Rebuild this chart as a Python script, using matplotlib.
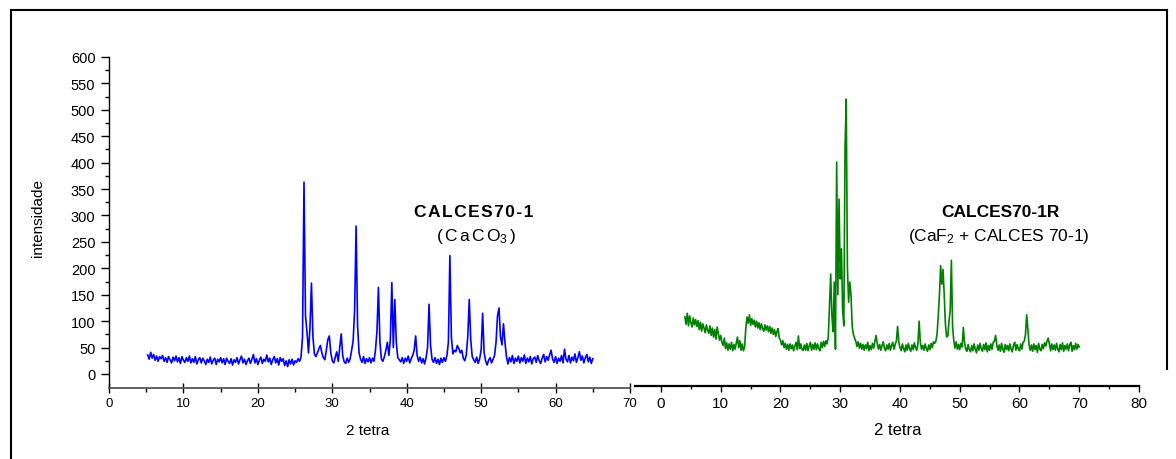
"""XRD patterns of CALCES70-1 and CALCES70-1R, side by side."""

import matplotlib.pyplot as plt
import numpy as np
from matplotlib.lines import Line2D
from matplotlib.ticker import MultipleLocator, FixedLocator

plt.rcParams["font.family"] = ["Liberation Sans", "DejaVu Sans"]
plt.rcParams["mathtext.fontset"] = "custom"
plt.rcParams["mathtext.rm"] = "Liberation Sans"
plt.rcParams["mathtext.it"] = "Liberation Sans:italic"
plt.rcParams["mathtext.bf"] = "Liberation Sans:bold"

# scan grids (start angle, step in 2-theta)
CAL_START, CAL_STEP = 5.2, 0.2
CALR_START, CALR_STEP = 4.0, 0.2

# CALCES70-1 (CaCO3), intensity, one row per 2 degrees
calces = [
    36, 28, 41, 30, 37, 26, 34, 24, 33, 29,
    35, 24, 31, 22, 33, 27, 21, 32, 25, 34,
    23, 31, 20, 33, 26, 22, 31, 24, 34, 21,
    29, 22, 33, 19, 27, 31, 21, 30, 25, 18,
    28, 22, 32, 19, 26, 30, 18, 28, 23, 31,
    21, 29, 18, 30, 24, 20, 29, 17, 27, 22,
    31, 19, 27, 34, 21, 28, 18, 25, 30, 20,
    28, 37, 21, 29, 18, 26, 32, 20, 28, 24,
    36, 23, 30, 18, 27, 33, 21, 29, 17, 31,
    24, 29, 16, 25, 14, 27, 19, 28, 17, 25,
    22, 29, 24, 32, 70, 363, 110, 80, 40, 87,
    172, 70, 38, 33, 40, 48, 54, 40, 31, 27,
    45, 65, 72, 40, 25, 21, 32, 42, 24, 50,
    76, 35, 23, 20, 30, 22, 29, 45, 63, 120,
    280, 90, 40, 28, 22, 33, 20, 29, 23, 31,
    21, 30, 24, 45, 80, 164, 60, 28, 24, 33,
    45, 60, 35, 65, 173, 50, 141, 60, 31, 27,
    23, 31, 20, 30, 24, 34, 21, 29, 35, 45,
    72, 35, 24, 32, 21, 29, 19, 31, 50, 132,
    55, 28, 22, 31, 20, 28, 18, 30, 22, 31,
    24, 35, 60, 224, 70, 38, 45, 42, 54, 48,
    40, 45, 30, 25, 36, 70, 141, 65, 33, 27,
    22, 32, 20, 29, 45, 115, 40, 25, 17, 26,
    31, 21, 28, 35, 60, 110, 125, 70, 55, 95,
    60, 33, 19, 31, 23, 35, 20, 30, 24, 34,
    21, 31, 24, 36, 20, 30, 23, 33, 19, 29,
    32, 22, 35, 25, 20, 30, 37, 23, 33, 26,
    36, 45, 28, 22, 33, 20, 30, 24, 35, 21,
    47, 28, 23, 35, 21, 32, 25, 38, 22, 31,
    42, 26, 34, 21, 31, 37, 23, 32, 20, 29,
]

# CALCES70-1R (CaF2 + CALCES 70-1)
calces_r = [
    108, 94, 115, 91, 110, 97, 89, 106, 93, 103,
    90, 101, 84, 98, 81, 95, 87, 78, 93, 83,
    77, 91, 73, 87, 70, 84, 66, 89, 76, 64,
    73, 60, 54, 68, 48, 59, 45, 57, 47, 60,
    44, 56, 47, 59, 70, 50, 63, 45, 57, 44,
    52, 88, 108, 96, 112, 92, 105, 94, 102, 89,
    100, 87, 97, 84, 95, 86, 81, 93, 83, 91,
    80, 90, 77, 87, 75, 84, 71, 80, 86, 68,
    64, 55, 63, 50, 58, 47, 56, 45, 57, 48,
    55, 44, 53, 60, 46, 72, 48, 57, 46, 45,
    55, 45, 58, 44, 53, 60, 45, 56, 47, 59,
    46, 57, 48, 44, 60, 50, 62, 52, 63, 57,
    70, 130, 189, 110, 80, 174, 47, 401, 150, 331,
    180, 237, 120, 91, 426, 520, 200, 136, 174, 150,
    90, 75, 68, 62, 52, 61, 49, 58, 47, 56,
    45, 55, 48, 60, 44, 54, 46, 58, 49, 62,
    73, 57, 47, 56, 45, 54, 61, 48, 44, 55,
    47, 58, 45, 54, 60, 47, 56, 63, 90, 60,
    50, 44, 57, 48, 42, 55, 45, 58, 48, 43,
    55, 46, 59, 50, 45, 57, 100, 60, 47, 54,
    45, 57, 48, 43, 55, 46, 58, 50, 61, 58,
    62, 75, 110, 150, 205, 170, 198, 150, 95, 70,
    72, 100, 120, 215, 90, 63, 49, 61, 47, 56,
    46, 58, 51, 88, 60, 47, 43, 56, 46, 42,
    54, 44, 57, 47, 40, 55, 45, 58, 48, 43,
    56, 46, 59, 42, 54, 45, 57, 47, 60, 62,
    73, 55, 45, 55, 43, 58, 47, 41, 56, 46,
    54, 44, 57, 47, 42, 55, 60, 45, 56, 48,
    44, 57, 47, 60, 62, 75, 112, 85, 55, 45,
    55, 43, 57, 46, 54, 41, 58, 47, 44, 56,
    48, 59, 53, 62, 68, 57, 44, 57, 46, 55,
    45, 58, 47, 42, 56, 46, 59, 43, 54, 47,
    57, 44, 55, 60, 43, 54, 46, 58, 47, 56,
    51,
]

W, H = 1176, 460


def fx(px):
    return px / W


def fy(py):
    return 1 - py / H


def main() -> None:
    tt_cal = CAL_START + CAL_STEP * np.arange(len(calces))
    tt_calr = CALR_START + CALR_STEP * np.arange(len(calces_r))

    fig = plt.figure(figsize=(W / 100, H / 100), dpi=100)

    # left panel
    ax1 = fig.add_axes([fx(109), fy(389), fx(630) - fx(109), fy(58) - fy(389)])
    ax1.plot(tt_cal, calces, color="#0000ff", lw=1.2)
    ax1.set_xlim(0, 70)
    ax1.set_ylim(-26.5, 600)
    ax1.spines[["top", "right"]].set_visible(False)
    ax1.spines["bottom"].set_color("#555555")
    ax1.spines["bottom"].set_linewidth(1.3)
    ax1.spines["left"].set_linewidth(1.0)
    ax1.xaxis.set_major_locator(MultipleLocator(10))
    ax1.xaxis.set_minor_locator(MultipleLocator(5))
    ax1.yaxis.set_major_locator(FixedLocator(np.arange(0, 601, 50)))
    ax1.yaxis.set_minor_locator(FixedLocator(np.arange(25, 600, 50)))
    ax1.tick_params(axis="y", which="major", direction="out", length=5.8, width=1, labelsize=10.5, pad=4)
    ax1.tick_params(axis="y", which="minor", direction="out", length=3, width=1)
    ax1.tick_params(axis="x", which="major", direction="inout", length=7, width=1, labelsize=9.5, pad=3)
    ax1.tick_params(axis="x", which="minor", direction="out", length=2.6, width=1)
    ax1.patch.set_alpha(0)

    # right panel (same intensity scale, no y axis)
    ax2 = fig.add_axes([fx(635), fy(387), fx(1139) - fx(635), fy(58) - fy(387)])
    ax2.plot(tt_calr, calces_r, color="#008000", lw=1.2)
    ax2.set_xlim(-4.35, 80)
    ax2.set_ylim(-22.7, 600)
    ax2.spines[["top", "right", "left"]].set_visible(False)
    ax2.spines["bottom"].set_linewidth(1.6)
    ax2.set_yticks([])
    ax2.xaxis.set_major_locator(FixedLocator(np.arange(0, 81, 10)))
    ax2.xaxis.set_minor_locator(FixedLocator(np.arange(5, 80, 10)))
    ax2.tick_params(axis="x", which="major", direction="out", length=4.5, width=1, labelsize=11, pad=3)
    ax2.tick_params(axis="x", which="minor", direction="out", length=2.4, width=1)
    ax2.patch.set_alpha(0)

    # labels
    fig.text(fx(38), fy(218), "intensidade", rotation=90, ha="center", va="center", fontsize=11)
    fig.text(fx(368), fy(431), "2 tetra", ha="center", va="center", fontsize=11)
    fig.text(fx(898), fy(431), "2 tetra", ha="center", va="center", fontsize=12)

    hs = "\u200a"
    fig.text(fx(474), fy(213), hs.join("CALCES70-1"), ha="center", va="center",
             fontsize=12.5, fontweight="bold")
    fig.text(fx(476), fy(237),
             r"$\mathrm{(}\,\mathrm{C}\,\mathrm{a}\,\mathrm{C}\,\mathrm{O}_{\mathrm{3}}\,\mathrm{)}$",
             ha="center", va="center", fontsize=12.5)
    fig.text(fx(1000), fy(213), "CALCES70-1R", ha="center", va="center",
             fontsize=12.5, fontweight="bold")
    fig.text(fx(999), fy(236), r"(CaF$_\mathrm{2}$ + CALCES 70-1)", ha="center", va="center",
             fontsize=12.5)

    # frame around the figure
    for xs, ys in [((10.5, 10.5), (10.5, 460)), ((10.5, 1166.5), (10.5, 10.5)),
                   ((1166.5, 1166.5), (10.5, 370))]:
        fig.add_artist(Line2D([fx(x) for x in xs], [fy(y) for y in ys], color="black", lw=1.5))

    fig.savefig("out.png", dpi=100)


if __name__ == "__main__":
    main()
